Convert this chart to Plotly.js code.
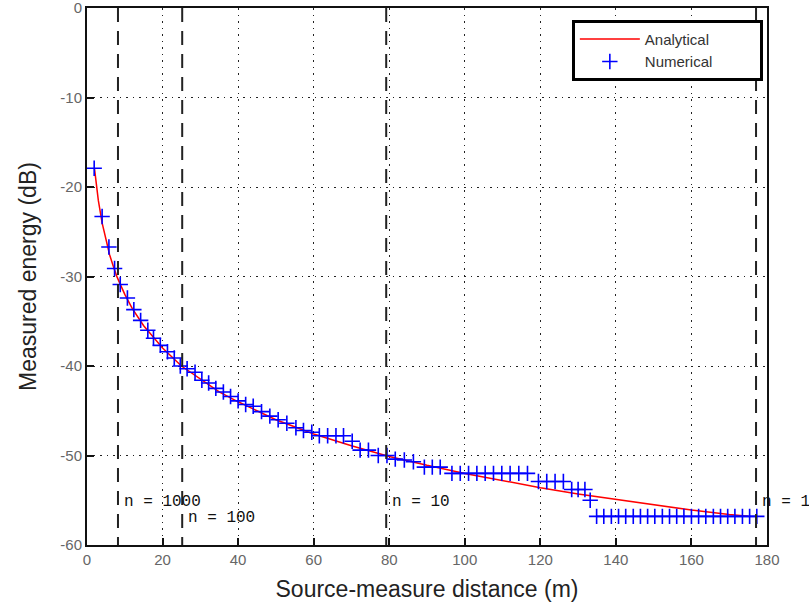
<!DOCTYPE html>
<html>
<head>
<meta charset="utf-8">
<script src="https://cdn.plot.ly/plotly-3.0.1.min.js"></script>
<style>html,body{margin:0;padding:0;background:#fff;}#chart{width:809px;height:608px;}</style>
</head>
<body>
<div id="chart"></div>
<script>
// Analytical curve
const analyticalX = [2, 3, 4, 5, 6, 7, 8, 10, 12, 15, 20, 25, 30, 35, 40, 50, 60, 70, 80, 90, 100, 110, 120, 130, 140, 150, 160, 170, 175];
const analyticalY = [-18.0, -21.5, -24.0, -26.0, -27.6, -28.9, -30.1, -32.0, -33.6, -35.5, -38.0, -40.0, -41.5, -42.9, -44.0, -46.0, -47.6, -48.9, -50.1, -51.1, -52.0, -52.8, -53.6, -54.3, -54.9, -55.5, -56.1, -56.6, -56.8];

// Numerical points
const numericalX = [1.9, 4.0, 5.8, 7.3, 8.8, 10.7, 12.4, 14.2, 16.1, 17.6, 19.4, 21.3, 23.1, 24.7, 26.5, 28.6, 30.4, 32.2, 34.1, 36.1,
  38.0, 40.0, 42.0, 44.0, 46.2, 48.4, 50.6, 52.9, 55.3, 57.3, 59.5, 61.5, 63.7, 65.9, 67.9, 70.2, 72.3, 74.5, 77.1, 79.4,
  81.6, 84.0, 86.4, 89.3, 91.4, 93.5, 96.6, 98.8, 101.0, 103.2, 105.4, 107.6, 109.8, 112.0, 114.3, 116.6,
  119.5, 121.7, 123.9, 126.1, 128.3, 130.0, 131.8, 133.2,
  134.9, 136.8, 138.8, 140.7, 142.6, 144.6, 146.5, 148.4, 150.3, 152.3, 154.2, 156.1, 158.0, 160.0, 161.9, 163.8, 165.8, 167.7, 169.6, 171.5, 173.5, 175.4, 177.3];
const numericalY = [-17.9, -23.3, -26.7, -29.1, -30.9, -32.4, -33.7, -34.9, -36.0, -36.9, -37.7, -38.4, -39.1, -40.0, -40.3, -40.7, -41.6, -41.9, -42.5, -42.9,
  -43.4, -43.9, -44.3, -44.5, -45.1, -45.6, -46.0, -46.4, -46.9, -47.2, -47.4, -47.8, -47.8, -47.8, -47.8, -48.4, -49.4, -49.4, -50.0, -50.0,
  -50.4, -50.5, -50.7, -51.3, -51.3, -51.3, -52.0, -52.0, -52.0, -52.0, -52.0, -52.0, -52.0, -52.0, -52.0, -52.0,
  -52.9, -52.9, -52.9, -52.9, -53.8, -53.8, -53.8, -55.0,
  -56.8, -56.8, -56.8, -56.8, -56.8, -56.8, -56.8, -56.8, -56.8, -56.8, -56.8, -56.8, -56.8, -56.8, -56.8, -56.8, -56.8, -56.8, -56.8, -56.8, -56.8, -56.8, -56.8];

// n-threshold distances and their labels
const nDistances = [8.2, 25.2, 79.2, 177.1];
const nLabels = ["n = 1000", "n = 100", "n = 10", "n = 1"];
const nLabelY = [-55.2, -57.0, -55.2, -55.2];

const xTicks = [0, 20, 40, 60, 80, 100, 120, 140, 160, 180];
const yTicks = [0, -10, -20, -30, -40, -50, -60];

const pad = '\u00a0'.repeat(10);
const traces = [
  {x: analyticalX, y: analyticalY, type: 'scatter', mode: 'lines', name: 'Analytical' + pad,
   line: {color: '#ff0000', width: 1.5}},
  {x: numericalX, y: numericalY, type: 'scatter', mode: 'markers', name: 'Numerical' + pad,
   marker: {symbol: 'cross-thin', size: 11, color: '#0000ff', line: {color: '#0000ff', width: 1.6}}}
];

const shapes = nDistances.map(d => ({
  type: 'line', xref: 'x', yref: 'y', x0: d, x1: d, y0: 0, y1: -60, layer: 'above',
  line: {color: '#222', width: 2, dash: '14px,9px'}
}));

const annotations = nDistances.map((d, i) => ({
  x: d, y: nLabelY[i], xref: 'x', yref: 'y', text: nLabels[i], showarrow: false,
  xanchor: 'left', yanchor: 'middle', xshift: 4,
  font: {family: 'Liberation Mono, monospace', size: 16, color: '#111'}
}));

const axisCommon = {
  showline: true, linecolor: '#111', linewidth: 2, mirror: true,
  ticks: 'inside', ticklen: 7, tickwidth: 2, tickcolor: '#111',
  showgrid: true, gridcolor: '#222', gridwidth: 1, griddash: '1.5px,5px',
  zeroline: false, ticklabeloverflow: 'allow',
  tickfont: {family: 'Liberation Sans, Arial, sans-serif', size: 15, color: '#666'}
};

const layout = {
  width: 809, height: 608,
  margin: {l: 87, r: 42, t: 8, b: 63},
  paper_bgcolor: '#fff', plot_bgcolor: '#fff',
  showlegend: true,
  xaxis: Object.assign({}, axisCommon, {
    range: [0, 180], tickvals: xTicks, ticktext: xTicks.map(String),
    title: {text: 'Source-measure distance (m)', standoff: 14,
            font: {family: 'Liberation Sans, Arial, sans-serif', size: 23, color: '#222'}}
  }),
  yaxis: Object.assign({}, axisCommon, {
    range: [-60, 0], tickvals: yTicks, ticktext: yTicks.map(String),
    title: {text: 'Measured energy (dB)', standoff: 17,
            font: {family: 'Liberation Sans, Arial, sans-serif', size: 23, color: '#222'}}
  }),
  legend: {
    x: 0.713, y: 0.978, xanchor: 'left', yanchor: 'top',
    bgcolor: '#fff', bordercolor: '#000', borderwidth: 3,
    font: {family: 'Liberation Sans, Arial, sans-serif', size: 15, color: '#333'},
    itemwidth: 60, tracegroupgap: 0
  },
  shapes: shapes,
  annotations: annotations
};

Plotly.newPlot('chart', traces, layout, {displayModeBar: false, staticPlot: true});
</script>
</body>
</html>
